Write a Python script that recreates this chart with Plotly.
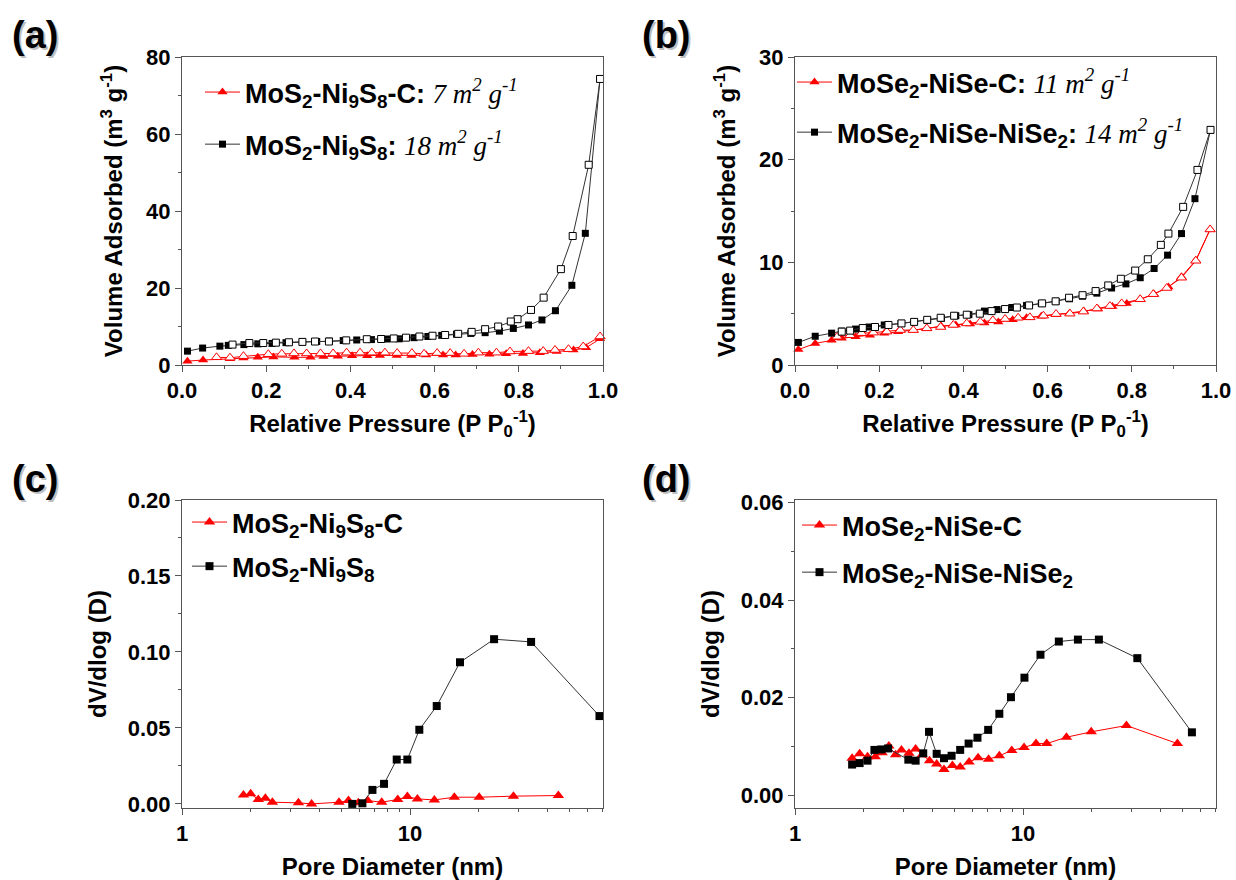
import plotly.graph_objects as go

# ---------------- data ----------------
# (a) MoS2-Ni9S8 (black) and MoS2-Ni9S8-C (red) isotherms
a_blk_ads_x = [0.013, 0.049, 0.09, 0.11, 0.147, 0.18, 0.214, 0.247, 0.286, 0.32, 0.35, 0.383, 0.415, 0.45,
               0.486, 0.516, 0.551, 0.584, 0.617, 0.652, 0.686, 0.72, 0.754, 0.787, 0.823, 0.855, 0.887,
               0.926, 0.958, 0.993]
a_blk_ads_y = [3.6, 4.4, 4.9, 5.1, 5.3, 5.5, 5.6, 5.8, 6.0, 6.1, 6.2, 6.35, 6.5, 6.6, 6.75, 6.8, 7.1, 7.4,
               7.7, 8.0, 8.2, 8.4, 8.8, 9.5, 10.4, 11.7, 14.1, 20.7, 34.2, 74.3]
a_blk_des_x = [0.993, 0.966, 0.928, 0.900, 0.859, 0.829, 0.797, 0.781, 0.751, 0.72, 0.688, 0.656, 0.625,
               0.595, 0.564, 0.532, 0.503, 0.473, 0.439, 0.39, 0.349, 0.316, 0.286, 0.254, 0.223, 0.193,
               0.16, 0.12]
a_blk_des_y = [74.3, 52.0, 33.5, 24.9, 17.5, 14.3, 11.9, 11.3, 10.0, 9.3, 8.6, 8.1, 7.8, 7.6, 7.4, 7.1, 6.9,
               6.75, 6.7, 6.4, 6.1, 6.1, 6.0, 5.9, 5.8, 5.7, 5.7, 5.3]
a_red_ads_x = [0.013, 0.05, 0.114, 0.146, 0.18, 0.217, 0.267, 0.305, 0.336, 0.37, 0.404, 0.44, 0.47, 0.51,
               0.545, 0.58, 0.62, 0.65, 0.69, 0.73, 0.77, 0.81, 0.85, 0.89, 0.93, 0.96, 0.993]
a_red_ads_y = [1.0, 1.3, 1.6, 1.8, 2.0, 2.1, 2.0, 2.0, 2.2, 2.3, 2.4, 2.4, 2.5, 2.5, 2.5, 2.6, 2.6, 2.6,
               2.7, 2.8, 2.9, 3.0, 3.2, 3.5, 3.9, 4.5, 6.8]
a_red_des_x = [0.993, 0.953, 0.918, 0.886, 0.858, 0.823, 0.779, 0.747, 0.704, 0.67, 0.637, 0.606, 0.575,
               0.546, 0.511, 0.482, 0.451, 0.423, 0.391, 0.359, 0.329, 0.296, 0.266, 0.237, 0.205, 0.146,
               0.114, 0.082]
a_red_des_y = [7.4, 4.8, 4.1, 3.9, 3.6, 3.6, 3.5, 3.2, 3.2, 2.9, 3.1, 3.1, 2.9, 3.1, 3.1, 3.2, 3.2, 3.2,
               3.2, 3.0, 3.0, 3.0, 3.0, 2.9, 2.8, 2.3, 1.9, 2.0]

# (b) MoSe2-NiSe-NiSe2 (black) and MoSe2-NiSe-C (red) isotherms
b_blk_ads_x = [0.008, 0.048, 0.087, 0.111, 0.144, 0.176, 0.212, 0.252, 0.283, 0.315, 0.348, 0.382, 0.413,
               0.45, 0.48, 0.515, 0.55, 0.585, 0.62, 0.652, 0.683, 0.717, 0.752, 0.786, 0.82, 0.853, 0.885,
               0.918, 0.95, 0.987]
b_blk_ads_y = [2.2, 2.8, 3.1, 3.3, 3.5, 3.7, 3.9, 4.05, 4.2, 4.35, 4.55, 4.8, 4.9, 5.25, 5.4, 5.6, 5.8,
               6.0, 6.2, 6.45, 6.7, 7.0, 7.5, 7.9, 8.5, 9.4, 10.7, 12.8, 16.2, 22.9]
b_blk_des_x = [0.987, 0.956, 0.922, 0.887, 0.869, 0.838, 0.808, 0.774, 0.744, 0.714, 0.683, 0.651, 0.619,
               0.587, 0.556, 0.527, 0.499, 0.467, 0.439, 0.408, 0.378, 0.346, 0.314, 0.283, 0.253, 0.222,
               0.19, 0.161, 0.131, 0.111]
b_blk_des_y = [22.9, 19.0, 15.4, 12.8, 11.7, 10.3, 9.2, 8.4, 7.75, 7.2, 6.8, 6.55, 6.2, 6.0, 5.8, 5.6,
               5.45, 5.25, 5.0, 4.9, 4.8, 4.6, 4.4, 4.2, 4.05, 3.9, 3.7, 3.6, 3.35, 3.25]
b_red_ads_x = [0.008, 0.048, 0.087, 0.111, 0.144, 0.178, 0.212, 0.245, 0.281, 0.313, 0.347, 0.382, 0.416,
               0.45, 0.483, 0.517, 0.55, 0.585, 0.62, 0.652, 0.686, 0.72, 0.754, 0.788, 0.82, 0.853, 0.887,
               0.918, 0.952, 0.986]
b_red_ads_y = [1.5, 2.1, 2.4, 2.6, 2.75, 2.9, 3.1, 3.25, 3.4, 3.55, 3.8, 3.9, 4.0, 4.1, 4.2, 4.4, 4.6,
               4.75, 4.9, 5.05, 5.25, 5.45, 5.7, 6.0, 6.4, 6.9, 7.6, 8.6, 10.2, 13.2]
b_red_des_x = [0.986, 0.952, 0.918, 0.883, 0.851, 0.82, 0.776, 0.748, 0.717, 0.685, 0.653, 0.62, 0.59,
               0.558, 0.53, 0.499, 0.47, 0.44, 0.408, 0.376, 0.346, 0.313, 0.281, 0.25, 0.218, 0.186,
               0.158, 0.131, 0.1]
b_red_des_y = [13.2, 10.15, 8.5, 7.5, 6.9, 6.4, 6.0, 5.74, 5.5, 5.2, 5.0, 4.96, 4.8, 4.64, 4.6, 4.48,
               4.35, 4.2, 4.05, 3.9, 3.7, 3.57, 3.4, 3.4, 3.25, 3.15, 3.1, 2.9, 2.75]

# (c) pore size distributions
c_blk_x = [5.58, 6.18, 6.84, 7.69, 8.74, 9.73, 10.98, 13.09, 16.56, 23.36, 33.94, 67.7]
c_blk_y = [0.0, 0.0004, 0.0092, 0.0132, 0.0292, 0.0292, 0.0488, 0.0644, 0.0932, 0.1084, 0.1066, 0.0578]
c_red_x = [1.86, 2.0, 2.16, 2.32, 2.49, 3.24, 3.7, 4.88, 5.37, 5.93, 6.52, 7.51, 8.83, 9.73, 10.77,
           12.78, 15.64, 20.1, 28.4, 44.7]
c_red_y = [0.0059, 0.0066, 0.0029, 0.0037, 0.0011, 0.0007, 0.0, 0.0011, 0.0022, 0.0007, 0.0022, 0.0011,
           0.0029, 0.0048, 0.0033, 0.0026, 0.0044, 0.0044, 0.0051, 0.0055]

# (d) pore size distributions
d_blk_x = [1.78, 1.92, 2.08, 2.23, 2.39, 2.56, 3.14, 3.38, 3.65, 3.87, 4.18, 4.5, 4.86, 5.3, 5.77, 6.31,
           7.03, 7.87, 8.85, 10.14, 11.92, 14.35, 17.4, 21.5, 31.7, 55.0]
d_blk_y = [0.0063, 0.0066, 0.0071, 0.0093, 0.0094, 0.0096, 0.0073, 0.0071, 0.0086, 0.013, 0.0085, 0.0076,
           0.0081, 0.0093, 0.0106, 0.0118, 0.0134, 0.0167, 0.0201, 0.0241, 0.0288, 0.0315, 0.0319, 0.0319,
           0.0281, 0.0129]
d_red_x = [1.78, 1.92, 2.08, 2.25, 2.41, 2.58, 2.76, 2.93, 3.16, 3.38, 3.61, 3.89, 4.18, 4.5, 4.9, 5.3,
           5.8, 6.35, 7.06, 7.87, 8.92, 10.1, 11.4, 12.7, 15.5, 19.9, 28.4, 47.5]
d_red_y = [0.0076, 0.0085, 0.0079, 0.0079, 0.0087, 0.0101, 0.0083, 0.0093, 0.0086, 0.0095, 0.0083, 0.0071,
           0.0064, 0.0053, 0.0061, 0.0058, 0.0068, 0.0077, 0.0074, 0.0081, 0.0092, 0.0098, 0.0106, 0.0106,
           0.0119, 0.013, 0.0143, 0.0106]

ITAL = "<span style=\"font-family:'Liberation Serif','Times New Roman',serif;font-style:italic;font-weight:normal\">"
a_names = ["MoS<sub>2</sub>-Ni<sub>9</sub>S<sub>8</sub>-C: " + ITAL + "7 m<sup>2</sup> g<sup>-1</sup></span>",
           "MoS<sub>2</sub>-Ni<sub>9</sub>S<sub>8</sub>: " + ITAL + "18 m<sup>2</sup> g<sup>-1</sup></span>"]
b_names = ["MoSe<sub>2</sub>-NiSe-C: " + ITAL + "11 m<sup>2</sup> g<sup>-1</sup></span>",
           "MoSe<sub>2</sub>-NiSe-NiSe<sub>2</sub>: " + ITAL + "14 m<sup>2</sup> g<sup>-1</sup></span>"]
c_names = ["MoS<sub>2</sub>-Ni<sub>9</sub>S<sub>8</sub>-C", "MoS<sub>2</sub>-Ni<sub>9</sub>S<sub>8</sub>"]
d_names = ["MoSe<sub>2</sub>-NiSe-C", "MoSe<sub>2</sub>-NiSe-NiSe<sub>2</sub>"]
panel_labels = ["(a)", "(b)", "(c)", "(d)"]

# ---------------- styling ----------------
FONT = "Arial, 'Liberation Sans', sans-serif"
RED = "#ff0000"
BLK = "#000000"
LBLK = "#333333"
W, H = 1236, 880

fig = go.Figure()


def filled(x, y, name, color, lcolor, symbol, size, xa, ya, leg, group):
    fig.add_trace(go.Scatter(
        x=x, y=y, name=name, mode="lines+markers", xaxis=xa, yaxis=ya, legend=leg,
        legendgroup=group, cliponaxis=False,
        line=dict(color=lcolor, width=1),
        marker=dict(symbol=symbol, size=size, color=color, line=dict(width=0))))


def opened(x, y, color, lcolor, symbol, size, xa, ya, leg, group):
    fig.add_trace(go.Scatter(
        x=x, y=y, mode="lines+markers", xaxis=xa, yaxis=ya, legend=leg, legendgroup=group,
        showlegend=False, cliponaxis=False,
        line=dict(color=lcolor, width=1),
        marker=dict(symbol=symbol, size=size, color="white", line=dict(color=color, width=1))))


# (a)
filled(a_red_ads_x, a_red_ads_y, a_names[0], RED, RED, "triangle-up", 9, "x", "y", "legend", "ar")
opened(a_red_des_x, a_red_des_y, RED, RED, "triangle-up", 9, "x", "y", "legend", "ar")
filled(a_blk_ads_x, a_blk_ads_y, a_names[1], BLK, LBLK, "square", 7, "x", "y", "legend", "ab")
opened(a_blk_des_x, a_blk_des_y, BLK, LBLK, "square", 7, "x", "y", "legend", "ab")
# (b)
filled(b_red_ads_x, b_red_ads_y, b_names[0], RED, RED, "triangle-up", 9, "x2", "y2", "legend2", "br")
opened(b_red_des_x, b_red_des_y, RED, RED, "triangle-up", 9, "x2", "y2", "legend2", "br")
filled(b_blk_ads_x, b_blk_ads_y, b_names[1], BLK, LBLK, "square", 7, "x2", "y2", "legend2", "bb")
opened(b_blk_des_x, b_blk_des_y, BLK, LBLK, "square", 7, "x2", "y2", "legend2", "bb")
# (c)
filled(c_red_x, c_red_y, c_names[0], RED, RED, "triangle-up", 10, "x3", "y3", "legend3", "cr")
filled(c_blk_x, c_blk_y, c_names[1], BLK, LBLK, "square", 8, "x3", "y3", "legend3", "cb")
# (d)
filled(d_red_x, d_red_y, d_names[0], RED, RED, "triangle-up", 10, "x4", "y4", "legend4", "dr")
filled(d_blk_x, d_blk_y, d_names[1], BLK, LBLK, "square", 8, "x4", "y4", "legend4", "db")


def px2x(p):
    return p / W


def px2y(p):
    return 1 - p / H


AX = dict(showline=True, linecolor="#555555", linewidth=1, mirror=True, ticks="outside", ticklen=6,
          tickwidth=1, tickcolor="#555555", showgrid=False, zeroline=False, automargin=False,
          tickfont=dict(family=FONT, size=22, color="black", weight="bold"))
TF = dict(family=FONT, size=24, color="black", weight="bold")

xA = [px2x(182), px2x(603)]
xB = [px2x(795), px2x(1216)]
yTop = [px2y(365), px2y(57)]
yBot = [px2y(808), px2y(500)]

logminor = [2, 3, 4, 5, 6, 7, 8, 9, 20, 30, 40, 50, 60, 70]

xt_iso = dict(title=dict(text="Relative Pressure (P P<sub>0</sub><sup>-1</sup>)", font=TF, standoff=12),
              range=[0, 1], tickmode="linear", tick0=0, dtick=0.2, tickformat=".1f",
              minor=dict(ticks="outside", ticklen=3, dtick=0.1, tickcolor="#555555"))
xt_pore = dict(title=dict(text="Pore Diameter (nm)", font=TF, standoff=14),
               type="log", range=[0, 1.846], tickmode="array", tickvals=[1, 10], ticktext=["1", "10"],
               minor=dict(ticks="outside", ticklen=3, tickmode="array", tickvals=logminor,
                          tickcolor="#555555"))

fig.update_layout(
    width=W, height=H, margin=dict(l=0, r=0, t=0, b=0, autoexpand=False),
    paper_bgcolor="white", plot_bgcolor="white",
    font=dict(family=FONT, color="black"),
    xaxis=dict(**AX, **xt_iso, domain=xA, anchor="y"),
    yaxis=dict(**AX, domain=yTop, anchor="x", range=[0, 80], tickmode="linear", tick0=0, dtick=20,
               minor=dict(ticks="outside", ticklen=3, dtick=10, tickcolor="#555555"),
               title=dict(text="Volume Adsorbed (m<sup>3</sup> g<sup>-1</sup>)", font=TF, standoff=16)),
    xaxis2=dict(**AX, **xt_iso, domain=xB, anchor="y2"),
    yaxis2=dict(**AX, domain=yTop, anchor="x2", range=[0, 30], tickmode="linear", tick0=0, dtick=10,
                minor=dict(ticks="outside", ticklen=3, dtick=5, tickcolor="#555555"),
                title=dict(text="Volume Adsorbed (m<sup>3</sup> g<sup>-1</sup>)", font=TF, standoff=16)),
    xaxis3=dict(**AX, **xt_pore, domain=xA, anchor="y3"),
    yaxis3=dict(**AX, domain=yBot, anchor="x3", range=[-0.0027, 0.2], tickmode="linear", tick0=0,
                dtick=0.05, tickformat=".2f",
                minor=dict(ticks="outside", ticklen=3, dtick=0.025, tickcolor="#555555"),
                title=dict(text="dV/dlog (D)", font=TF, standoff=14)),
    xaxis4=dict(**AX, **xt_pore, domain=xB, anchor="y4"),
    yaxis4=dict(**AX, domain=yBot, anchor="x4", range=[-0.0026, 0.0605], tickmode="linear", tick0=0,
                dtick=0.02, tickformat=".2f",
                minor=dict(ticks="outside", ticklen=3, dtick=0.01, tickcolor="#555555"),
                title=dict(text="dV/dlog (D)", font=TF, standoff=14)),
)

LEGF = dict(family=FONT, size=27, color="black", weight="bold")
for key, (lx, ly, gap) in {"legend": (200, 68, 14), "legend2": (792, 58, 12), "legend3": (187, 498, 6),
                           "legend4": (797, 501, 9)}.items():
    fig.update_layout(**{key: dict(x=px2x(lx), y=px2y(ly), xanchor="left", yanchor="top",
                                   bgcolor="rgba(0,0,0,0)", borderwidth=0, font=LEGF,
                                   traceorder="grouped", tracegroupgap=gap, itemwidth=35)})

for lab, (cx, cy) in zip(panel_labels, [(35, 35), (666, 35), (35, 479), (666, 479)]):
    fig.add_annotation(x=px2x(cx + 2), y=px2y(cy + 2), xref="paper", yref="paper", text=lab,
                       xanchor="center", yanchor="middle", showarrow=False,
                       font=dict(family=FONT, size=38, color="rgba(0,0,0,0.25)", weight="bold"))
    fig.add_annotation(x=px2x(cx), y=px2y(cy), xref="paper", yref="paper", text=lab,
                       xanchor="center", yanchor="middle", showarrow=False,
                       font=dict(family=FONT, size=38, color="black", weight="bold"))

fig.write_html("out.html", config={"displayModeBar": False},
               post_script="document.body.style.margin='0';")
